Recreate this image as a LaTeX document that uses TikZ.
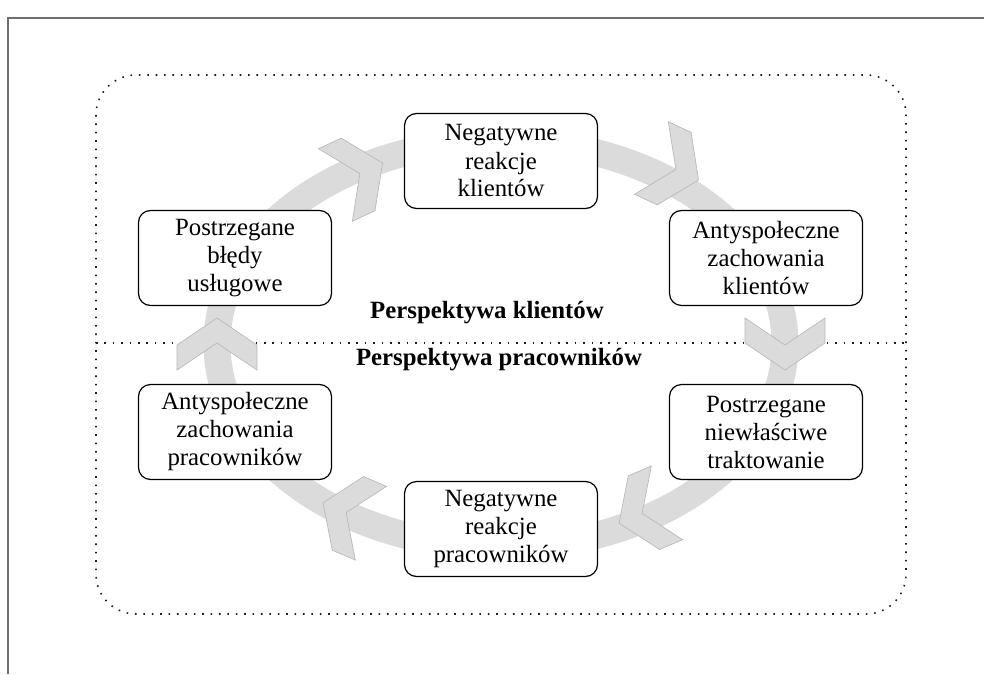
\documentclass[tikz,border=0pt]{standalone}
\usepackage{fontspec}
\setmainfont{Liberation Serif}
\definecolor{ringgray}{RGB}{219,219,219}
\definecolor{chevedge}{RGB}{185,185,185}
\definecolor{framegray}{RGB}{110,110,110}
\definecolor{dotcol}{RGB}{30,30,30}
\newcommand\mychevron[3]{%
  \begin{scope}[shift={(#1,#2)}, rotate=#3]
    \filldraw[chev] (-26pt,-40pt) -- (-1pt,-40pt) -- (26pt,0pt) -- (-1pt,40pt) -- (-26pt,40pt) -- (1pt,0pt) -- cycle;
  \end{scope}}
\begin{document}
\begin{tikzpicture}[x=1pt,y=-1pt,
  box/.style={draw=black, line width=1.2pt, rounded corners=12pt, fill=white,
    minimum width=193pt, minimum height=95pt, align=center, inner sep=0pt,
    font=\fontsize{24.8}{28}\selectfont},
  lbl/.style={inner sep=0pt, font=\fontsize{24.8}{28}\selectfont\bfseries},
  chev/.style={fill=ringgray, draw=chevedge, line width=0.7pt},
  dotline/.style={dotcol, line width=1.6pt, dash pattern=on 1.6pt off 6.8pt},
  framel/.style={framegray, line width=2pt}]
\useasboundingbox (0,0) rectangle (984,674);
% frame
\coordinate (fr1) at (984,18);
\coordinate (fr2) at (8,18);
\coordinate (fr3) at (8,674);
\draw[framel] (fr1) -- (fr2) -- (fr3);
% dotted region
\draw[dotline, rounded corners=40pt] (96,75) rectangle (906,614);
\coordinate (ml) at (96,343);
\coordinate (mr) at (906,343);
\draw[dotline] (ml) -- (mr);
% ring
\draw[ringgray, line width=27pt] (501,344) ellipse [x radius=284, y radius=203];
% chevrons
\mychevron{359}{174}{25}
\mychevron{675}{169}{-25}
\mychevron{785}{344}{-90}
\mychevron{643}{513}{-157}
\mychevron{347}{513}{157}
\mychevron{217}{344}{90}
% boxes
\node[box] (nrk) at (501,161) {Negatywne\\reakcje\\klientów};
\node[box] (pbu) at (235,258) {Postrzegane\\błędy\\usługowe};
\node[box] (azk) at (766,258) {Antyspołeczne\\zachowania\\klientów};
\node[box] (pnt) at (766,432) {Postrzegane\\niewłaściwe\\traktowanie};
\node[box] (nrp) at (501,529) {Negatywne\\reakcje\\pracowników};
\node[box] (azp) at (235,432) {Antyspołeczne\\zachowania\\pracowników};
% labels
\node[lbl, anchor=base] (pk) at (487,318) {Perspektywa klientów};
\node[lbl, anchor=base] (pp) at (499,365) {Perspektywa pracowników};
\end{tikzpicture}
\end{document}
